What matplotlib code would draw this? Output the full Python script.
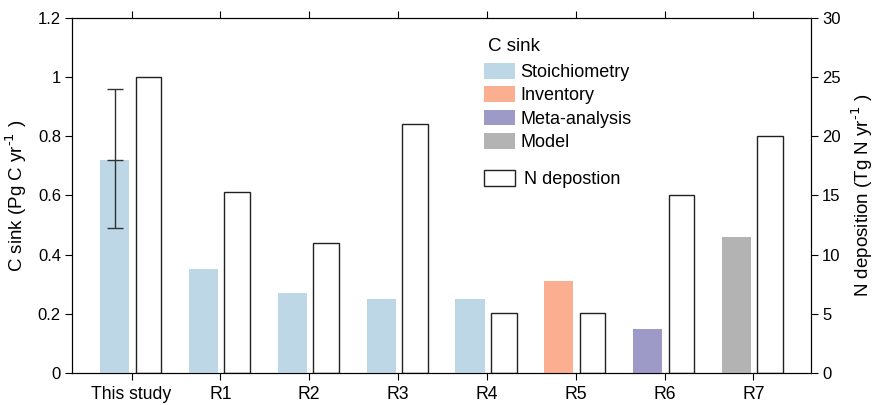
import numpy as np
import matplotlib
matplotlib.use("Agg")
import matplotlib.pyplot as plt
from matplotlib.patches import Patch

plt.rcParams['font.family'] = ['Liberation Sans', 'DejaVu Sans']
plt.rcParams['font.size'] = 13

# data
labels = ["This study", "R1", "R2", "R3", "R4", "R5", "R6", "R7"]
c_sink = [0.72, 0.35, 0.27, 0.25, 0.25, 0.31, 0.15, 0.46]
c_method = ["Stoichiometry", "Stoichiometry", "Stoichiometry", "Stoichiometry",
            "Stoichiometry", "Inventory", "Meta-analysis", "Model"]
c_err_low = 0.49
c_err_high = 0.96
n_dep = [25, 15.3, 11, 21, 5.1, 5.1, 15, 20]

method_colors = {"Stoichiometry": "#bdd7e7", "Inventory": "#fcae91",
                 "Meta-analysis": "#9e9ac8", "Model": "#b3b3b3"}

fig = plt.figure(figsize=(8.75, 4.05), dpi=100)
ax = fig.add_axes([0.0823, 0.079, 0.927 - 0.0823, 0.9556 - 0.079])
ax2 = ax.twinx()

x = np.arange(len(labels))
ax.bar(x - 0.19, c_sink, width=0.33, color=[method_colors[m] for m in c_method], zorder=2)
ax2.bar(x + 0.19, n_dep, width=0.29, facecolor="white", edgecolor="#222222", linewidth=1.0)

# error bar for this study
ax.errorbar([x[0] - 0.19], [c_sink[0]],
            yerr=[[c_sink[0] - c_err_low], [c_err_high - c_sink[0]]],
            fmt="_", color="#333333", markersize=12, capsize=6, elinewidth=1.0,
            capthick=1.0, zorder=5)

ax.set_zorder(ax2.get_zorder() + 1)
ax.patch.set_visible(False)

ax.set_xlim(-0.67, 7.65)
ax.set_ylim(0, 1.2)
ax2.set_ylim(0, 30)
ax.set_xticks(x)
ax.set_xticklabels(labels, fontsize=12.7)
ax.set_yticks([0, 0.2, 0.4, 0.6, 0.8, 1.0, 1.2])
ax.set_yticklabels(["0", "0.2", "0.4", "0.6", "0.8", "1", "1.2"])
ax2.set_yticks([0, 5, 10, 15, 20, 25, 30])
ax.tick_params(axis="x", top=True, direction="out", length=5, pad=4)
ax.tick_params(axis="y", direction="out", length=5, labelsize=12, pad=3)
ax2.tick_params(axis="y", direction="out", length=5, labelsize=12, pad=3)

ax.set_ylabel("C sink (Pg C yr$^{\\text{-}1}$ )", fontsize=13.5, labelpad=6)
ax2.set_ylabel("N deposition (Tg N yr$^{\\text{-}1}$ )", fontsize=13.5, labelpad=6)

# legend: title as plain text, then method patches, then N deposition
fig.text(488 / 875, 1 - 51 / 405, "C sink", fontsize=13.5, ha="left", va="baseline")
handles = [Patch(facecolor=method_colors[m], edgecolor="none", label=m)
           for m in ["Stoichiometry", "Inventory", "Meta-analysis", "Model"]]
leg1 = fig.legend(handles=handles, loc="upper left",
                  bbox_to_anchor=(484 / 875, 1 - 63 / 405), frameon=False, fontsize=13,
                  handlelength=1.7, handleheight=0.95,
                  labelspacing=0.3, handletextpad=0.3,
                  borderpad=0, borderaxespad=0)
leg2 = fig.legend(handles=[Patch(facecolor="white", edgecolor="#222222", label="N depostion")],
                  loc="upper left", bbox_to_anchor=(484 / 875, 1 - 170 / 405), frameon=False,
                  fontsize=13, handlelength=1.7, handleheight=0.95, handletextpad=0.5,
                  borderpad=0, borderaxespad=0)

fig.savefig("out.png", dpi=100)
